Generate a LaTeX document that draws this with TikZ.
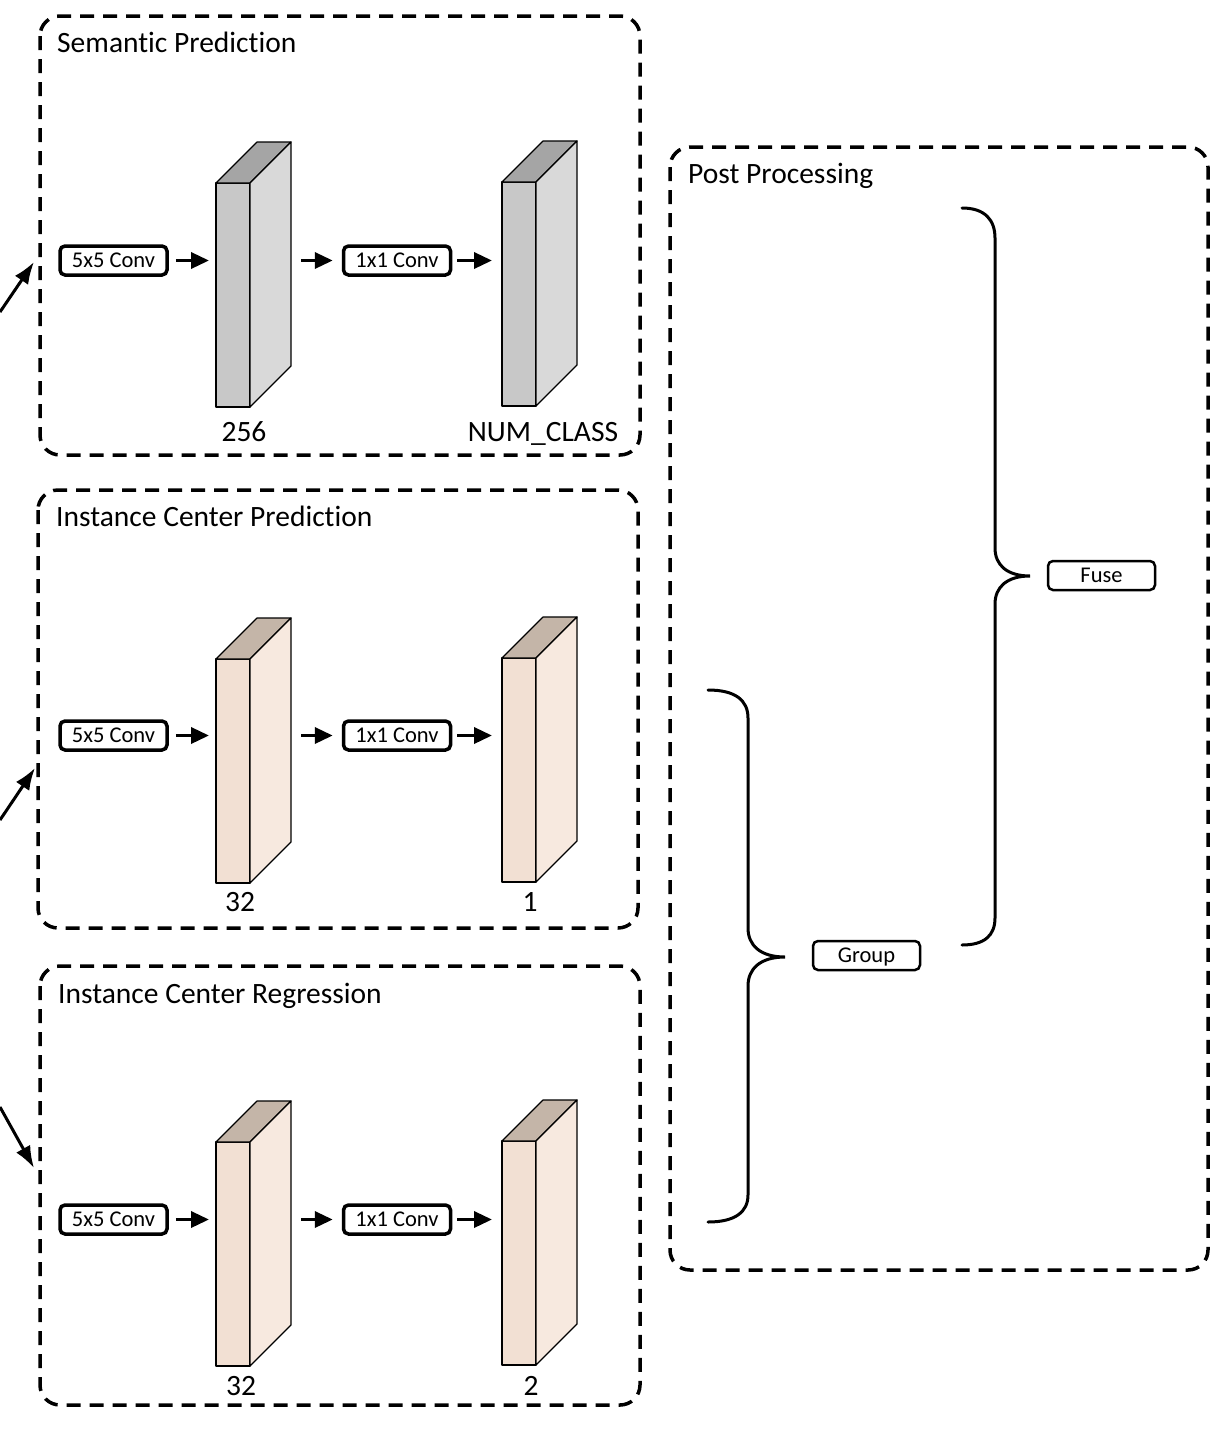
\documentclass[tikz,border=0pt]{standalone}
\usepackage{fontspec}
\setmainfont{Carlito}[Ligatures=NoCommon]
\usetikzlibrary{arrows.meta,calc}

\definecolor{semfront}{RGB}{200,200,200}
\definecolor{semtop}{RGB}{165,165,165}
\definecolor{semside}{RGB}{217,217,217}
\definecolor{insfront}{RGB}{242,224,211}
\definecolor{instop}{RGB}{196,181,168}
\definecolor{insside}{RGB}{247,233,223}

\tikzset{
  panel/.style={draw, line width=3.5pt, dash pattern=on 14pt off 9pt, rounded corners=20pt},
  title/.style={anchor=base west, font=\fontsize{29.5}{34}\selectfont, inner sep=0pt},
  dimlabel/.style={anchor=base, font=\fontsize{29.5}{34}\selectfont, inner sep=0pt},
  convbox/.style={draw, line width=3.5pt, rounded corners=5pt, minimum width=107pt,
    minimum height=29pt, inner sep=0pt, text height=17pt, text depth=3pt,
    font=\fontsize{22.5}{26}\selectfont},
  opbox/.style={draw, line width=2.5pt, rounded corners=5pt, minimum width=107pt,
    minimum height=29pt, inner sep=0pt, text height=17pt, text depth=3pt,
    font=\fontsize{22.5}{26}\selectfont},
  flow/.style={-{Triangle[length=18pt,width=16pt]}, line width=3.5pt},
  feed/.style={-{Latex[length=22pt,width=16pt]}, line width=3pt},
  brace/.style={line width=3pt, line cap=round},
  fmap/.style={minimum width=34pt, minimum height=224pt, inner sep=0pt, outer sep=0pt},
  face/.style={draw, line width=1.2pt, line join=round},
}

% feature-map cuboid: name, top-left corner of front face, colour prefix
\newcommand{\fmapblock}[3]{%
  \node[fmap, anchor=north west] (#1) at (#2) {};
  \fill[#3front] (#1.north west) rectangle (#1.south east);
  \draw[face] (#1.north west) rectangle (#1.south east);
  \draw[face, fill=#3top] (#1.north west) -- ++(41,-41) -- ($(#1.north east)+(41,-41)$)
    -- (#1.north east) -- cycle;
  \draw[face, fill=#3side] (#1.north east) -- ++(41,-41) -- ($(#1.south east)+(41,-41)$)
    -- (#1.south east) -- cycle;
  \coordinate (#1r) at ($(#1.north east)+(41,0)$);
}

\begin{document}
\begin{tikzpicture}[x=1pt, y=-1pt]
\useasboundingbox (0,0) rectangle (1230,1430);

% ---------- panels ----------
\draw[panel] (40,16) rectangle (640,455);
\draw[panel] (38,490) rectangle (638,928);
\draw[panel] (40,966) rectangle (640,1405);
\draw[panel] (670,147) rectangle (1208,1270);

\node[title] (t1) at (57,52) {Semantic Prediction};
\node[title] (t2) at (56,526) {Instance Center Prediction};
\node[title] (t3) at (58,1003) {Instance Center Regression};
\node[title] (t4) at (688,183) {Post Processing};

% ---------- semantic branch ----------
\node[convbox] (sc5) at (113.5,260.5) {5x5 Conv};
\fmapblock{sa}{216,183}{sem}
\node[convbox] (sc1) at (397,260.5) {1x1 Conv};
\fmapblock{sb}{502,182}{sem}
\node[dimlabel] (sla) at (244,441) {256};
\node[dimlabel] (slb) at (543,441) {NUM\_CLASS};
\draw[flow, shorten <=7pt, shorten >=7pt] (sc5.east) -- (sc5.east -| sa.west);
\draw[flow, shorten <=10pt, shorten >=9pt] (sc1.west -| sar) -- (sc1.west);
\draw[flow, shorten <=5pt, shorten >=10pt] (sc1.east) -- (sc1.east -| sb.west);

% ---------- instance center prediction ----------
\node[convbox] (pc5) at (113.5,735.5) {5x5 Conv};
\fmapblock{pa}{216,659}{ins}
\node[convbox] (pc1) at (397,735.5) {1x1 Conv};
\fmapblock{pb}{502,658}{ins}
\node[dimlabel] (pla) at (240,911) {32};
\node[dimlabel] (plb) at (530,911) {1};
\draw[flow, shorten <=7pt, shorten >=7pt] (pc5.east) -- (pc5.east -| pa.west);
\draw[flow, shorten <=10pt, shorten >=9pt] (pc1.west -| par) -- (pc1.west);
\draw[flow, shorten <=5pt, shorten >=10pt] (pc1.east) -- (pc1.east -| pb.west);

% ---------- instance center regression ----------
\node[convbox] (rc5) at (113.5,1219.5) {5x5 Conv};
\fmapblock{ra}{216,1142}{ins}
\node[convbox] (rc1) at (397,1219.5) {1x1 Conv};
\fmapblock{rb}{502,1141}{ins}
\node[dimlabel] (rla) at (241,1395) {32};
\node[dimlabel] (rlb) at (531,1395) {2};
\draw[flow, shorten <=7pt, shorten >=7pt] (rc5.east) -- (rc5.east -| ra.west);
\draw[flow, shorten <=10pt, shorten >=9pt] (rc1.west -| rar) -- (rc1.west);
\draw[flow, shorten <=5pt, shorten >=10pt] (rc1.east) -- (rc1.east -| rb.west);

% ---------- inputs entering from the left ----------
\coordinate (in1) at (0,312);
\coordinate (in1t) at (34,262);
\coordinate (in2) at (0,820);
\coordinate (in2t) at (35,768);
\coordinate (in3) at (0,1107);
\coordinate (in3t) at (34,1168);
\draw[feed] (in1) -- (in1t);
\draw[feed] (in2) -- (in2t);
\draw[feed] (in3) -- (in3t);

% ---------- post processing ----------
\node[opbox] (grp) at (866.5,955.5) {Group};
\node[opbox] (fuse) at (1101.5,575.5) {Fuse};

\draw[brace] (708,690) .. controls (735,690) and (748,700) .. (748,718)
  -- (748,928) .. controls (748,945) and (760,957) .. (785,957)
  .. controls (760,957) and (748,969) .. (748,986)
  -- (748,1195) .. controls (748,1212) and (735,1222) .. (708,1222);

\draw[brace] (962,208) .. controls (985,208) and (995,220) .. (995,238)
  -- (995,548) .. controls (995,565) and (1007,576) .. (1030,576)
  .. controls (1007,576) and (995,587) .. (995,604)
  -- (995,918) .. controls (995,935) and (985,945) .. (962,945);
\end{tikzpicture}
\end{document}
